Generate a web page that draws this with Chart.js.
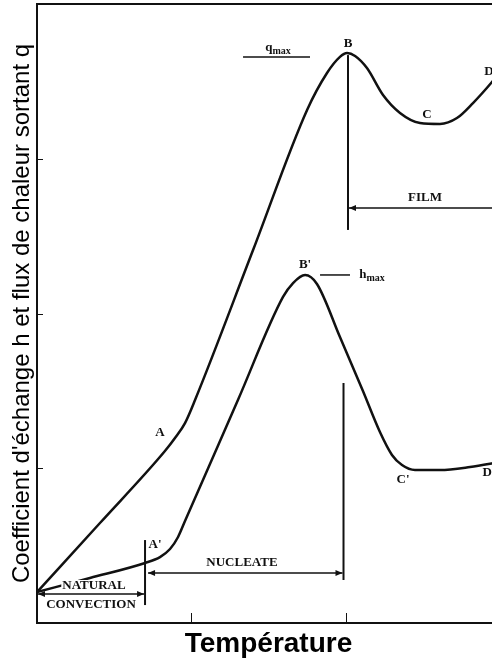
<!DOCTYPE html>
<html>
<head>
<meta charset="utf-8">
<style>
  html, body { margin: 0; padding: 0; background: #fff; overflow: hidden; }
  #wrap { width: 500px; height: 661px; }
</style>
<script src="https://cdn.jsdelivr.net/npm/chart.js@4.4.1/dist/chart.umd.min.js"></script>
</head>
<body>
<div id="wrap"><canvas id="chart" width="500" height="661"></canvas></div>
<script>
// --- Data (x: temperature units, y: h / q units) ---
// upper curve: heat flux q  (A -> B -> C -> D)
const qX = [0, 0.408, 0.829, 0.894, 0.959, 1.024, 1.400, 1.750, 1.879, 1.963, 2.009, 2.061, 2.138, 2.242, 2.352, 2.482, 2.611, 2.721, 2.825, 2.948, 3.0];
const qY = [0.20, 0.646, 1.111, 1.195, 1.292, 1.441, 2.410, 3.315, 3.554, 3.658, 3.683, 3.664, 3.586, 3.412, 3.296, 3.231, 3.225, 3.263, 3.360, 3.496, 3.561];

// lower curve: exchange coefficient h  (A' -> B' -> C' -> D')
const hX = [0, 0.343, 0.700, 0.797, 0.862, 0.914, 0.959, 1.302, 1.594, 1.659, 1.737, 1.814, 1.963, 2.112, 2.222, 2.300, 2.365, 2.449, 2.611, 2.806, 3.0];
const hY = [0.20, 0.291, 0.388, 0.426, 0.478, 0.556, 0.659, 1.441, 2.107, 2.197, 2.249, 2.191, 1.848, 1.499, 1.234, 1.086, 1.021, 0.989, 0.989, 1.008, 1.040];

const xTicks = [1, 2];
const yTicks = [1, 2, 3];

// regime markers (data units): vertical bars and arrows
const vBarX  = [2.015, 1.986, 0.700];
const vBarY1 = [3.670, 1.551, 0.536];
const vBarY2 = [2.540, 0.278, 0.116];

const arrowY  = [2.682, 0.323, 0.187];
const arrowX1 = [2.015, 0.713, 0];
const arrowX2 = [3.0, 1.986, 0.700];
const arrowHeads = ["start", "both", "both"];

// q_max / h_max leader lines
const leadY  = [3.658, 2.249];
const leadX1 = [1.335, 1.834];
const leadX2 = [1.769, 2.028];

// point / region labels
const labelText = ["A", "A'", "B", "B'", "C", "C'", "D", "D'", "NATURAL", "CONVECTION", "NUCLEATE", "FILM"];
const labelX    = [0.797, 0.765, 2.015, 1.737, 2.527, 2.372, 2.929, 2.929, 0.369, 0.350, 1.328, 2.514];
const labelY    = [1.228, 0.504, 3.742, 2.313, 3.283, 0.924, 3.561, 0.969, 0.239, 0.116, 0.388, 2.746];

const subText = [["q", "max"], ["h", "max"]];
const subX    = [1.562, 2.171];
const subY    = [3.709, 2.242];

const SERIF = "bold 13px 'Liberation Serif', 'Times New Roman', serif";
const INK = "#111";

const pts = (xs, ys) => xs.map((x, i) => ({ x, y: ys[i] }));

function arrowHead(ctx, x, y, dir) {
  ctx.beginPath();
  ctx.moveTo(x, y);
  ctx.lineTo(x - dir * 7, y - 3);
  ctx.lineTo(x - dir * 7, y + 3);
  ctx.closePath();
  ctx.fill();
}

// --- Annotations drawn through the chart scales ---
const annotations = {
  id: "annotations",
  afterDatasetsDraw(chart) {
    const { ctx, chartArea: a, scales: { x, y } } = chart;
    ctx.save();
    ctx.strokeStyle = INK;
    ctx.fillStyle = INK;

    // top frame line
    ctx.lineWidth = 2;
    ctx.beginPath();
    ctx.moveTo(a.left, a.top);
    ctx.lineTo(a.right, a.top);
    ctx.stroke();

    // inward ticks
    ctx.lineWidth = 1;
    yTicks.forEach((v) => {
      const py = Math.round(y.getPixelForValue(v)) + 0.5;
      ctx.beginPath();
      ctx.moveTo(a.left, py);
      ctx.lineTo(a.left + 6, py);
      ctx.stroke();
    });
    xTicks.forEach((v) => {
      const px = Math.round(x.getPixelForValue(v)) + 0.5;
      ctx.beginPath();
      ctx.moveTo(px, a.bottom);
      ctx.lineTo(px, a.bottom - 10);
      ctx.stroke();
    });

    // vertical regime bars
    ctx.lineWidth = 2;
    vBarX.forEach((vx, i) => {
      const px = x.getPixelForValue(vx);
      ctx.beginPath();
      ctx.moveTo(px, y.getPixelForValue(vBarY1[i]));
      ctx.lineTo(px, y.getPixelForValue(vBarY2[i]));
      ctx.stroke();
    });

    // arrows
    ctx.lineWidth = 1.5;
    arrowY.forEach((vy, i) => {
      const py = y.getPixelForValue(vy);
      const p1 = x.getPixelForValue(arrowX1[i]) + 1;
      const p2 = x.getPixelForValue(arrowX2[i]) - 1;
      ctx.beginPath();
      ctx.moveTo(p1, py);
      ctx.lineTo(p2, py);
      ctx.stroke();
      if (arrowHeads[i] !== "end") arrowHead(ctx, p1, py, -1);
      if (arrowHeads[i] !== "start") arrowHead(ctx, p2, py, 1);
    });

    // leader lines for q_max and h_max
    leadY.forEach((vy, i) => {
      const py = y.getPixelForValue(vy);
      ctx.beginPath();
      ctx.moveTo(x.getPixelForValue(leadX1[i]), py);
      ctx.lineTo(x.getPixelForValue(leadX2[i]), py);
      ctx.stroke();
    });

    // labels
    ctx.font = SERIF;
    ctx.textAlign = "center";
    ctx.textBaseline = "middle";
    labelText.forEach((t, i) => {
      const px = x.getPixelForValue(labelX[i]);
      const py = y.getPixelForValue(labelY[i]);
      if (t === "NATURAL") {
        const w = ctx.measureText(t).width;
        ctx.fillStyle = "#fff";
        ctx.fillRect(px - w / 2 - 1, py - 6, w + 2, 11);
        ctx.fillStyle = INK;
      }
      ctx.fillText(t, px, py);
    });

    // subscripted labels
    ctx.textAlign = "left";
    subText.forEach(([base, sub], i) => {
      const px = x.getPixelForValue(subX[i]);
      const py = y.getPixelForValue(subY[i]);
      ctx.font = SERIF;
      const wb = ctx.measureText(base).width;
      ctx.font = "bold 10px 'Liberation Serif', 'Times New Roman', serif";
      const ws = ctx.measureText(sub).width;
      const left = px - (wb + ws) / 2;
      ctx.font = SERIF;
      ctx.fillText(base, left, py - 1);
      ctx.font = "bold 10px 'Liberation Serif', 'Times New Roman', serif";
      ctx.fillText(sub, left + wb, py + 2);
    });

    ctx.restore();
  }
};

new Chart(document.getElementById("chart"), {
  type: "scatter",
  data: {
    datasets: [
      {
        label: "q",
        data: pts(qX, qY),
        showLine: true,
        borderColor: INK,
        borderWidth: 2.5,
        pointRadius: 0,
        cubicInterpolationMode: "monotone",
        fill: false
      },
      {
        label: "h",
        data: pts(hX, hY),
        showLine: true,
        borderColor: INK,
        borderWidth: 2.5,
        pointRadius: 0,
        cubicInterpolationMode: "monotone",
        fill: false
      }
    ]
  },
  options: {
    responsive: false,
    animation: false,
    layout: { padding: { top: 4, right: 0, bottom: 0, left: 0 } },
    plugins: { legend: { display: false }, tooltip: { enabled: false } },
    scales: {
      x: {
        type: "linear",
        min: 0,
        max: 3,
        ticks: { display: false },
        grid: { display: false },
        border: { display: true, color: INK, width: 2 },
        title: {
          display: true,
          text: "Température",
          color: "#000",
          font: { family: "'Liberation Sans', Arial, sans-serif", size: 28, weight: "bold" },
          padding: { top: 0, bottom: 0 }
        },
        afterFit: (s) => { s.height = 38; }
      },
      y: {
        type: "linear",
        min: 0,
        max: 4,
        ticks: { display: false },
        grid: { display: false },
        border: { display: true, color: INK, width: 2 },
        title: {
          display: true,
          text: "Coefficient d'échange h et flux de chaleur sortant q",
          color: "#000",
          font: { family: "'Liberation Sans', Arial, sans-serif", size: 24, weight: "normal" },
          padding: { top: 8, bottom: 0 }
        },
        afterFit: (s) => { s.width = 37; }
      }
    }
  },
  plugins: [annotations]
});
</script>
</body>
</html>
